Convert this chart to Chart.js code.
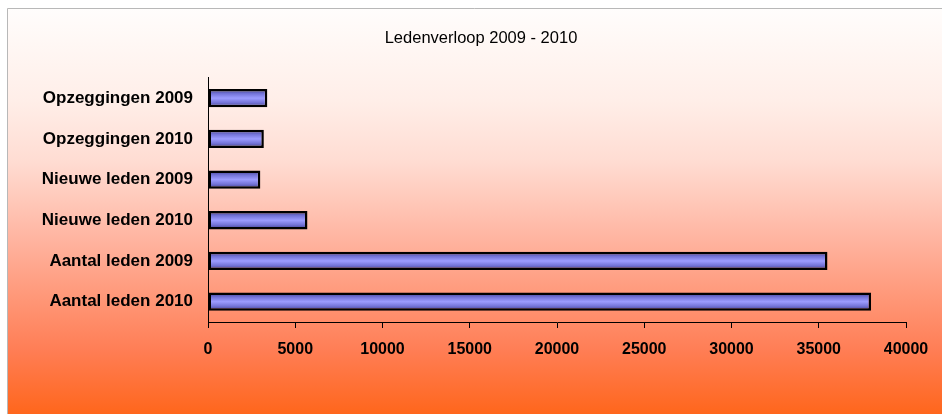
<!DOCTYPE html>
<html>
<head>
<meta charset="utf-8">
<script src="https://cdn.jsdelivr.net/npm/chart.js@4"></script>
<style>
  html, body { margin: 0; padding: 0; background: #ffffff; }
  #wrap { width: 942px; height: 414px; }
</style>
</head>
<body>
<div id="wrap"><canvas id="c" width="942" height="414"></canvas></div>
<script>
const chartTitle = "Ledenverloop 2009 - 2010";
const categories = ["Opzeggingen 2009", "Opzeggingen 2010", "Nieuwe leden 2009", "Nieuwe leden 2010", "Aantal leden 2009", "Aantal leden 2010"];
const memberValues = [3400, 3200, 3000, 5700, 35500, 38000];
const xTicks = [0, 5000, 10000, 15000, 20000, 25000, 30000, 35000, 40000];

const bgPlugin = {
  id: 'bgPlugin',
  beforeDraw(chart) {
    const ctx = chart.ctx;
    ctx.save();
    ctx.fillStyle = '#ffffff';
    ctx.fillRect(0, 0, chart.width, chart.height);
    const g = ctx.createLinearGradient(0, 8, 0, chart.height);
    g.addColorStop(0.00, '#fffdfc');
    g.addColorStop(0.23, '#ffeee8');
    g.addColorStop(0.38, '#ffdcd2');
    g.addColorStop(0.57, '#ffb4a0');
    g.addColorStop(0.72, '#ff9676');
    g.addColorStop(0.84, '#ff7e56');
    g.addColorStop(1.00, '#ff661c');
    ctx.fillStyle = g;
    ctx.fillRect(7, 8, chart.width - 7, chart.height - 8);
    ctx.strokeStyle = '#b8b8b8';
    ctx.lineWidth = 1;
    ctx.beginPath();
    ctx.moveTo(7.5, chart.height);
    ctx.lineTo(7.5, 8.5);
    ctx.lineTo(chart.width, 8.5);
    ctx.stroke();
    ctx.restore();
  }
};

function barFill(context) {
  const chart = context.chart;
  const yScale = chart.scales && chart.scales.y;
  if (!yScale || !chart.chartArea) return '#8c8cf0';
  const yc = yScale.getPixelForValue(context.dataIndex);
  const h = 9;
  const g = chart.ctx.createLinearGradient(0, yc - h, 0, yc + h);
  g.addColorStop(0.0, '#3c3c88');
  g.addColorStop(0.25, '#7474d8');
  g.addColorStop(0.5, '#9c9cff');
  g.addColorStop(0.75, '#7474d8');
  g.addColorStop(1.0, '#3c3c88');
  return g;
}

new Chart(document.getElementById('c'), {
  type: 'bar',
  data: {
    labels: categories,
    datasets: [{
      data: memberValues,
      backgroundColor: barFill,
      borderColor: '#000000',
      borderWidth: 2.5,
      borderSkipped: false,
      categoryPercentage: 0.45,
      barPercentage: 1.0
    }]
  },
  options: {
    indexAxis: 'y',
    responsive: false,
    animation: false,
    devicePixelRatio: 1,
    layout: { padding: { left: 20, right: 0, top: 8, bottom: 0 } },
    plugins: {
      legend: { display: false },
      tooltip: { enabled: false },
      title: {
        display: true,
        text: chartTitle,
        color: '#000000',
        font: { family: 'Liberation Sans, Arial, sans-serif', size: 16.5, weight: 'normal' },
        padding: { top: 21, bottom: 29 }
      }
    },
    scales: {
      x: {
        min: 0,
        max: 40000,
        afterBuildTicks(scale) { scale.ticks = xTicks.map(v => ({ value: v })); },
        afterFit(scale) { scale.paddingRight = 36; scale.height = 92; },
        grid: { display: true, drawOnChartArea: false, drawTicks: true, tickLength: 6, color: '#000000' },
        border: { display: true, color: '#000000', width: 1 },
        ticks: {
          color: '#000000',
          padding: 12,
          maxRotation: 0,
          font: { family: 'Liberation Sans, Arial, sans-serif', size: 16, weight: 'bold' },
          callback: (v) => String(v)
        }
      },
      y: {
        afterFit(scale) { scale.width = 188; },
        grid: { display: false, drawTicks: false },
        border: { display: true, color: '#000000', width: 1 },
        ticks: {
          color: '#000000',
          padding: 15,
          font: { family: 'Liberation Sans, Arial, sans-serif', size: 17, weight: 'bold' }
        }
      }
    }
  },
  plugins: [bgPlugin]
});
</script>
</body>
</html>
